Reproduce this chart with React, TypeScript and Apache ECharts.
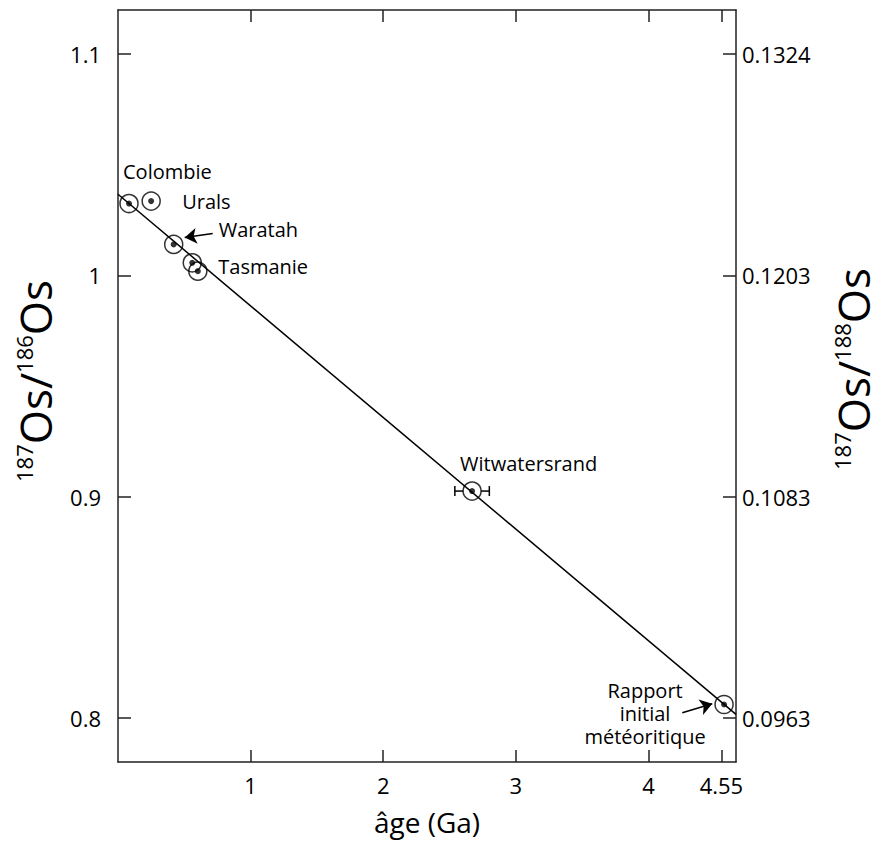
import React, { useEffect, useRef } from 'react';
import * as echarts from 'echarts';

// Samples (age in Ga, 187Os/186Os)
const sampleNames = ['Colombie', 'Urals', 'Waratah', 'Tasmanie', '', 'Witwatersrand', 'Rapport\ninitial\nmétéoritique'];
const ages = [0.083, 0.25, 0.42, 0.56, 0.602, 2.67, 4.57];
const ratios = [1.0325, 1.0336, 1.014, 1.0057, 1.0019, 0.9025, 0.806];
const witwatersrandAgeRange = [2.54, 2.8];
const witwatersrandIndex = 5;

// Regression line
const fitAges = [0, 4.66];
const fitRatios = [1.0367, 0.8015];

// Axes
const ageTicks = [1, 2, 3, 4, 4.55];
const ratioTicks = [0.8, 0.9, 1.0, 1.1];
const ratio188Labels = ['0.0963', '0.1083', '0.1203', '0.1324'];

// Annotation arrows (tail -> head) in data coordinates
const waratahArrow = [[0.714, 1.0189], [0.503, 1.0171]];
const meteoriteArrow = [[4.255, 0.8023], [4.481, 0.8063]];

// Label layout (pixel offsets from point centre)
const labelLayout = [
  { offset: [-6, -32], align: 'left' },
  { offset: [31, 0], align: 'left' },
  { offset: [45, -15], align: 'left' },
  { offset: [26, 4], align: 'left' },
  { offset: [0, 0], align: 'left' },
  { offset: [-12, -28], align: 'left' },
  { offset: [-79, 9], align: 'center' },
];

const FONT = '"Open Sans", sans-serif';
const INK = '#000';

export default function App() {
  const ref = useRef<HTMLDivElement>(null);

  useEffect(() => {
    if (!ref.current) return;
    const chart = echarts.init(ref.current, null, { renderer: 'svg' });

    const xMin = 0, xMax = 4.66, yMin = 0.78, yMax = 1.12;
    const axisLineStyle = { color: '#222', width: 1.5 };

    const titleRich = {
      s: { fontSize: 22, fontFamily: FONT, fill: INK, color: INK, verticalAlign: 'top', lineHeight: 20 },
      b: { fontSize: 44, fontFamily: FONT, fill: INK, color: INK, lineHeight: 44 },
    };

    const option: any = {
      animation: false,
      backgroundColor: '#fff',
      textStyle: { fontFamily: FONT, color: INK },
      grid: { left: 118, right: 147, top: 10, bottom: 77, containLabel: false },
      xAxis: [
        {
          type: 'value', min: xMin, max: xMax, position: 'bottom',
          axisLine: { show: true, onZero: false, lineStyle: axisLineStyle },
          axisTick: { show: true, inside: true, length: 12, lineStyle: axisLineStyle, customValues: ageTicks },
          axisLabel: { show: true, customValues: ageTicks, fontSize: 22, color: INK, fontFamily: FONT, margin: 12,
            formatter: (v: number) => String(v) },
          splitLine: { show: false },
          name: 'âge (Ga)', nameLocation: 'middle', nameGap: 46,
          nameTextStyle: { fontSize: 28, color: INK, fontFamily: FONT },
        },
        {
          type: 'value', min: xMin, max: xMax, position: 'top',
          axisLine: { show: true, onZero: false, lineStyle: axisLineStyle },
          axisTick: { show: true, inside: true, length: 12, lineStyle: axisLineStyle, customValues: ageTicks },
          axisLabel: { show: false },
          splitLine: { show: false },
        },
      ],
      yAxis: [
        {
          type: 'value', min: yMin, max: yMax, position: 'left',
          axisLine: { show: true, onZero: false, lineStyle: axisLineStyle },
          axisTick: { show: true, inside: true, length: 13, lineStyle: axisLineStyle, customValues: ratioTicks },
          axisLabel: { show: true, customValues: ratioTicks, fontSize: 22, color: INK, fontFamily: FONT, margin: 17,
            formatter: (v: number) => String(Math.round(v * 10) / 10) },
          splitLine: { show: false },
        },
        {
          type: 'value', min: yMin, max: yMax, position: 'right',
          axisLine: { show: true, onZero: false, lineStyle: axisLineStyle },
          axisTick: { show: true, inside: true, length: 13, lineStyle: axisLineStyle, customValues: ratioTicks },
          axisLabel: { show: true, customValues: ratioTicks, fontSize: 22, color: INK, fontFamily: FONT, margin: 6,
            formatter: (v: number) => {
              const i = ratioTicks.findIndex((t) => Math.abs(t - v) < 1e-9);
              return i >= 0 ? ratio188Labels[i] : '';
            } },
          splitLine: { show: false },
        },
      ],
      graphic: [
        {
          type: 'text', x: 35, y: 381, rotation: Math.PI / 2,
          style: {
            text: '{s|187}{b|Os/}{s|186}{b|Os}',
            align: 'center', verticalAlign: 'middle', fill: INK,
            rich: titleRich,
          },
        },
        {
          type: 'text', x: 853, y: 369, rotation: Math.PI / 2,
          style: {
            text: '{s|187}{b|Os/}{s|188}{b|Os}',
            align: 'center', verticalAlign: 'middle', fill: INK,
            rich: titleRich,
          },
        },
      ],
      series: [
        {
          type: 'line', xAxisIndex: 0, yAxisIndex: 0,
          data: fitAges.map((a, i) => [a, fitRatios[i]]),
          symbol: 'none', lineStyle: { color: INK, width: 1.5 }, silent: true,
          markLine: {
            silent: true, symbol: ['none', 'arrow'], symbolSize: 12,
            label: { show: false },
            itemStyle: { color: INK },
            lineStyle: { color: INK, width: 1.5, type: 'solid' },
            emphasis: { disabled: true },
            data: [
              [{ coord: waratahArrow[0] }, { coord: waratahArrow[1] }],
              [{ coord: meteoriteArrow[0] }, { coord: meteoriteArrow[1] }],
            ],
          },
        },
        {
          type: 'custom', xAxisIndex: 0, yAxisIndex: 0, silent: true,
          data: [[ages[witwatersrandIndex], ratios[witwatersrandIndex], witwatersrandAgeRange[0], witwatersrandAgeRange[1]]],
          renderItem: (params: any, api: any) => {
            const c = api.coord([api.value(0), api.value(1)]);
            const lo = api.coord([api.value(2), api.value(1)]);
            const hi = api.coord([api.value(3), api.value(1)]);
            const r = 9, cap = 5;
            const st = { stroke: INK, lineWidth: 1.5 };
            return {
              type: 'group',
              children: [
                { type: 'line', shape: { x1: lo[0], y1: c[1], x2: c[0] - r, y2: c[1] }, style: st },
                { type: 'line', shape: { x1: c[0] + r, y1: c[1], x2: hi[0], y2: c[1] }, style: st },
                { type: 'line', shape: { x1: lo[0], y1: c[1] - cap, x2: lo[0], y2: c[1] + cap }, style: st },
                { type: 'line', shape: { x1: hi[0], y1: c[1] - cap, x2: hi[0], y2: c[1] + cap }, style: st },
              ],
            };
          },
        },
        {
          type: 'scatter', xAxisIndex: 0, yAxisIndex: 0,
          symbol: 'circle', symbolSize: 18,
          itemStyle: { color: 'rgba(0,0,0,0)', borderColor: INK, borderWidth: 1.5 },
          data: ages.map((a, i) => ({
            value: [a, ratios[i]],
            name: sampleNames[i],
            label: {
              show: sampleNames[i] !== '',
              position: 'inside',
              formatter: () => sampleNames[i],
              align: labelLayout[i].align,
              verticalAlign: 'middle',
              offset: labelLayout[i].offset,
              fontSize: 20, fontFamily: FONT, color: INK, lineHeight: 23,
              textBorderWidth: 0, opacity: 1,
            },
          })),
          z: 3,
        },
        {
          type: 'scatter', xAxisIndex: 0, yAxisIndex: 0,
          symbol: 'circle', symbolSize: 6,
          itemStyle: { color: INK },
          data: ages.map((a, i) => [a, ratios[i]]),
          z: 4,
        },
      ],
    };

    chart.setOption(option);
    return () => chart.dispose();
  }, []);

  return (
    <div
      ref={ref}
      style={{ position: 'fixed', left: 0, top: 0, width: 883, height: 841, background: '#fff' }}
    />
  );
}
